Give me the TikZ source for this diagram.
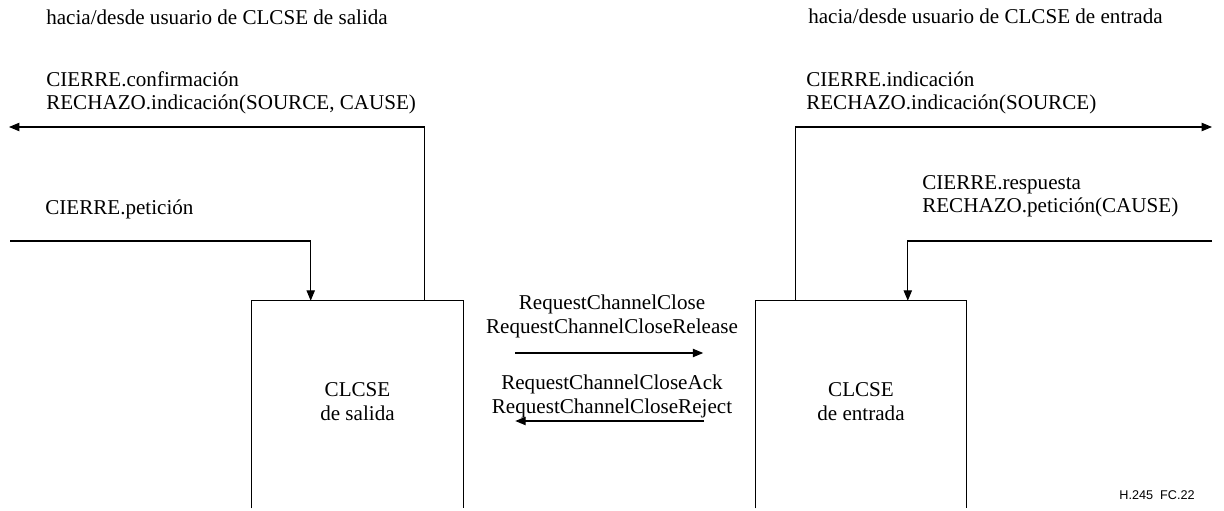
\documentclass[tikz,border=0pt]{standalone}
\usepackage{fontspec}
\setmainfont{Liberation Serif}
\newfontfamily\tagfont{Liberation Sans}
\usetikzlibrary{positioning,arrows.meta}
\newcommand{\labfont}{\fontsize{15}{16.4}\selectfont}
\tikzset{
  flowarrow/.style={-{Triangle[length=2.6mm,width=2.1mm]}, line width=0.75pt},
  wire/.style={line width=0.75pt},
  entity/.style={minimum width=5.275cm, minimum height=5.175cm, inner sep=0pt},
  relabel/.style={anchor=base west, align=left, inner sep=0pt},
  msglabel/.style={anchor=base, align=center, inner sep=0pt},
  figtag/.style={font=\tagfont\fontsize{9}{10}\selectfont, anchor=base, inner sep=0pt}
}

\begin{document}
\begin{tikzpicture}[x=0.025cm, y=-0.025cm, every node/.style={font=\labfont}]
  \useasboundingbox (0,0) rectangle (1224,511);

  % the two CLCSE entities (open at the bottom)
  \node[entity] (out) at (357.5,404.5) {};
  \node[entity] (in) at (861,404.5) {};
  \draw[wire] (out.south west) -- (out.north west) -- (out.north east) -- (out.south east);
  \draw[wire] (in.south west) -- (in.north west) -- (in.north east) -- (in.south east);
  \node[msglabel] (outname) at (357.5,420) {CLCSE\\de salida};
  \node[msglabel] (inname) at (861,420) {CLCSE\\de entrada};

  % user sides
  \node[relabel] (userL) at (46,25) {hacia/desde usuario de CLCSE de salida};
  \node[relabel] (userR) at (808,24) {hacia/desde usuario de CLCSE de entrada};
  \node[relabel] (confL) at (46,110) {CIERRE.confirmación\\RECHAZO.indicación(SOURCE, CAUSE)};
  \node[relabel] (petL) at (45,215) {CIERRE.petición};
  \node[relabel] (indR) at (806,110) {CIERRE.indicación\\RECHAZO.indicación(SOURCE)};
  \node[relabel] (respR) at (922,213) {CIERRE.respuesta\\RECHAZO.petición(CAUSE)};

  \coordinate (toUserL) at (9,127);
  \coordinate (fromUserL) at (10,241);
  \coordinate (toUserR) at (1212,127);
  \coordinate (fromUserR) at (1212,241);
  \draw[flowarrow] ([xshift=-0.975cm]out.north east) |- (toUserL);
  \draw[flowarrow] (fromUserL) -| ([xshift=1.475cm]out.north west);
  \draw[flowarrow] ([xshift=1cm]in.north west) |- (toUserR);
  \draw[flowarrow] (fromUserR) -| ([xshift=-1.475cm]in.north east);

  % peer messages
  \coordinate (laneA) at (612,353);
  \coordinate (laneB) at (612,421);
  \node[msglabel] (msgA) at (612,333) {RequestChannelClose\\RequestChannelCloseRelease};
  \node[msglabel] (msgB) at (612,413) {RequestChannelCloseAck\\RequestChannelCloseReject};
  \draw[flowarrow, shorten <=1.3cm, shorten >=1.3cm] (out.east |- laneA) -- (in.west |- laneA);
  \draw[flowarrow, shorten <=1.275cm, shorten >=1.3cm] (in.west |- laneB) -- (out.east |- laneB);

  \node[figtag] (tag) at (1157,499) {H.245\ \ FC.22};
\end{tikzpicture}
\end{document}
